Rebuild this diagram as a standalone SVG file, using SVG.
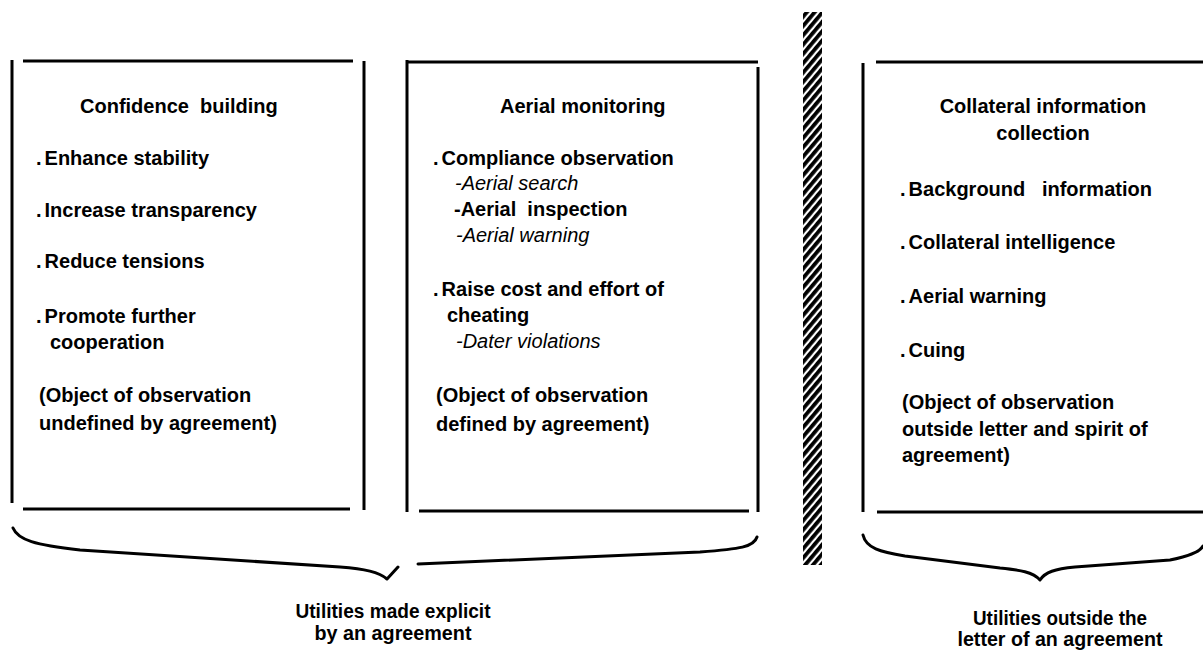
<svg xmlns="http://www.w3.org/2000/svg" width="1203" height="653" viewBox="0 0 1203 653">
<style>
.b{font-family:"Liberation Sans",Arial,sans-serif;font-weight:bold;font-size:20px;fill:#000;white-space:pre}
.i{font-family:"Liberation Sans",Arial,sans-serif;font-style:italic;font-size:20px;fill:#000}
.lbl{font-family:"Liberation Sans",Arial,sans-serif;font-weight:bold;font-size:20px;fill:#000;text-anchor:middle}
.mid{text-anchor:middle}
.ln{stroke:#000;stroke-width:3;fill:none}
.br{stroke:#000;stroke-width:3;fill:none;stroke-linecap:round;stroke-linejoin:round}
</style>
<defs>
<pattern id="hatch" patternUnits="userSpaceOnUse" width="6" height="6" patternTransform="rotate(40)">
<rect x="0" y="0" width="3.8" height="6" fill="#000"/>
</pattern>
</defs>
<rect width="1203" height="653" fill="#fff"/>

<g id="box-confidence">
<line class="ln" x1="12" y1="60" x2="12" y2="503"/>
<line class="ln" x1="23" y1="61" x2="353" y2="61"/>
<line class="ln" x1="364" y1="61" x2="364" y2="510"/>
<line class="ln" x1="23" y1="509" x2="350" y2="509"/>
<text class="b" x="80" y="113">Confidence  building</text>
<text class="b" x="36" y="165">.<tspan dx="3">Enhance stability</tspan></text>
<text class="b" x="36" y="217">.<tspan dx="3">Increase transparency</tspan></text>
<text class="b" x="36" y="268">.<tspan dx="3">Reduce tensions</tspan></text>
<text class="b" x="36" y="323">.<tspan dx="3">Promote further</tspan></text>
<text class="b" x="50" y="349">cooperation</text>
<text class="b" x="39" y="402">(Object of observation</text>
<text class="b" x="39" y="430">undefined by agreement)</text>
</g>

<g id="box-aerial">
<line class="ln" x1="407" y1="60" x2="407" y2="512"/>
<line class="ln" x1="407" y1="62" x2="758" y2="62"/>
<line class="ln" x1="758" y1="67" x2="758" y2="512"/>
<line class="ln" x1="419" y1="511" x2="749" y2="511"/>
<text class="b" x="500" y="113">Aerial monitoring</text>
<text class="b" x="433" y="165">.<tspan dx="3">Compliance observation</tspan></text>
<text class="i" x="455" y="190">-Aerial search</text>
<text class="b" x="454" y="216">-Aerial  inspection</text>
<text class="i" x="456" y="242">-Aerial warning</text>
<text class="b" x="433" y="296">.<tspan dx="3">Raise cost and effort of</tspan></text>
<text class="b" x="447" y="322">cheating</text>
<text class="i" x="456" y="348">-Dater violations</text>
<text class="b" x="436" y="402">(Object of observation</text>
<text class="b" x="436" y="431">defined by agreement)</text>
</g>

<g id="divider">
<rect x="803" y="12" width="19" height="553" fill="url(#hatch)"/>
</g>

<g id="box-collateral">
<line class="ln" x1="863" y1="63" x2="863" y2="512"/>
<line class="ln" x1="876" y1="62" x2="1203" y2="62"/>
<line class="ln" x1="877" y1="512" x2="1203" y2="512"/>
<text class="b mid" x="1043" y="113">Collateral information</text>
<text class="b mid" x="1043" y="140">collection</text>
<text class="b" x="900" y="196">.<tspan dx="3">Background   information</tspan></text>
<text class="b" x="900" y="249">.<tspan dx="3">Collateral intelligence</tspan></text>
<text class="b" x="900" y="303">.<tspan dx="3">Aerial warning</tspan></text>
<text class="b" x="900" y="357">.<tspan dx="3">Cuing</tspan></text>
<text class="b" x="902" y="409">(Object of observation</text>
<text class="b" x="902" y="436">outside letter and spirit of</text>
<text class="b" x="902" y="462">agreement)</text>
</g>

<g id="connectors">
<path class="br" d="M13 528 C18 540 35 545 80 550 L340 567 C365 569 379 572 387 579 L398 567"/>
<path class="br" d="M418 564 L700 552 C740 549 754 547 757 537"/>
<path class="br" d="M863 535 C866 548 880 552 905 556 L1000 568 C1020 570 1033 572 1040 580 C1045 572 1055 569 1075 567 L1170 560 C1190 556 1200 552 1203 546"/>
</g>

<g id="label-explicit">
<text class="lbl" x="393" y="618" textLength="195" lengthAdjust="spacingAndGlyphs">Utilities made explicit</text>
<text class="lbl" x="393" y="640" textLength="157" lengthAdjust="spacingAndGlyphs">by an agreement</text>
</g>
<g id="label-outside">
<text class="lbl" x="1060" y="625" textLength="174" lengthAdjust="spacingAndGlyphs">Utilities outside the</text>
<text class="lbl" x="1060" y="646" textLength="205" lengthAdjust="spacingAndGlyphs">letter of an agreement</text>
</g>
</svg>
